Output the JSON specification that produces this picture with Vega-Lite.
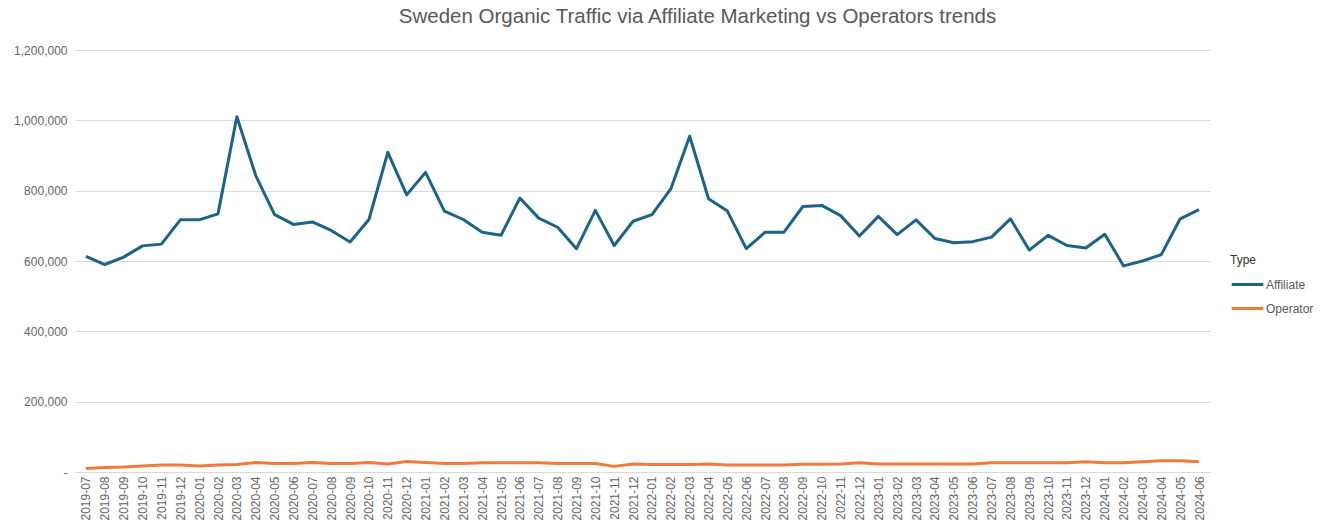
{
  "$schema": "https://vega.github.io/schema/vega-lite/v6.json",
  "autosize": {"type": "none"},
  "width": 1135,
  "height": 422,
  "padding": {"left": 75, "top": 50, "right": 121, "bottom": 55},
  "background": "white",
  "config": {
    "font": "Liberation Sans",
    "view": {"stroke": null}
  },
  "title": {
    "text": "Sweden Organic Traffic via Affiliate Marketing vs Operators trends",
    "fontSize": 20.5,
    "fontWeight": "normal",
    "color": "#595959",
    "anchor": "middle",
    "dx": 55,
    "offset": 17
  },
  "data": {
    "values": [
      {"month": "2019-07", "type": "Affiliate", "value": 613000},
      {"month": "2019-08", "type": "Affiliate", "value": 590000},
      {"month": "2019-09", "type": "Affiliate", "value": 611000},
      {"month": "2019-10", "type": "Affiliate", "value": 643000},
      {"month": "2019-11", "type": "Affiliate", "value": 648000},
      {"month": "2019-12", "type": "Affiliate", "value": 717000},
      {"month": "2020-01", "type": "Affiliate", "value": 717000},
      {"month": "2020-02", "type": "Affiliate", "value": 734000},
      {"month": "2020-03", "type": "Affiliate", "value": 1010000},
      {"month": "2020-04", "type": "Affiliate", "value": 843000},
      {"month": "2020-05", "type": "Affiliate", "value": 732000},
      {"month": "2020-06", "type": "Affiliate", "value": 704000},
      {"month": "2020-07", "type": "Affiliate", "value": 711000},
      {"month": "2020-08", "type": "Affiliate", "value": 687000},
      {"month": "2020-09", "type": "Affiliate", "value": 654000},
      {"month": "2020-10", "type": "Affiliate", "value": 718000},
      {"month": "2020-11", "type": "Affiliate", "value": 909000},
      {"month": "2020-12", "type": "Affiliate", "value": 788000},
      {"month": "2021-01", "type": "Affiliate", "value": 852000},
      {"month": "2021-02", "type": "Affiliate", "value": 742000},
      {"month": "2021-03", "type": "Affiliate", "value": 718000},
      {"month": "2021-04", "type": "Affiliate", "value": 682000},
      {"month": "2021-05", "type": "Affiliate", "value": 673000},
      {"month": "2021-06", "type": "Affiliate", "value": 779000},
      {"month": "2021-07", "type": "Affiliate", "value": 722000},
      {"month": "2021-08", "type": "Affiliate", "value": 696000},
      {"month": "2021-09", "type": "Affiliate", "value": 635000},
      {"month": "2021-10", "type": "Affiliate", "value": 744000},
      {"month": "2021-11", "type": "Affiliate", "value": 644000},
      {"month": "2021-12", "type": "Affiliate", "value": 713000},
      {"month": "2022-01", "type": "Affiliate", "value": 732000},
      {"month": "2022-02", "type": "Affiliate", "value": 805000},
      {"month": "2022-03", "type": "Affiliate", "value": 955000},
      {"month": "2022-04", "type": "Affiliate", "value": 777000},
      {"month": "2022-05", "type": "Affiliate", "value": 742000},
      {"month": "2022-06", "type": "Affiliate", "value": 635000},
      {"month": "2022-07", "type": "Affiliate", "value": 682000},
      {"month": "2022-08", "type": "Affiliate", "value": 682000},
      {"month": "2022-09", "type": "Affiliate", "value": 755000},
      {"month": "2022-10", "type": "Affiliate", "value": 758000},
      {"month": "2022-11", "type": "Affiliate", "value": 729000},
      {"month": "2022-12", "type": "Affiliate", "value": 671000},
      {"month": "2023-01", "type": "Affiliate", "value": 727000},
      {"month": "2023-02", "type": "Affiliate", "value": 675000},
      {"month": "2023-03", "type": "Affiliate", "value": 717000},
      {"month": "2023-04", "type": "Affiliate", "value": 664000},
      {"month": "2023-05", "type": "Affiliate", "value": 652000},
      {"month": "2023-06", "type": "Affiliate", "value": 655000},
      {"month": "2023-07", "type": "Affiliate", "value": 668000},
      {"month": "2023-08", "type": "Affiliate", "value": 720000},
      {"month": "2023-09", "type": "Affiliate", "value": 631000},
      {"month": "2023-10", "type": "Affiliate", "value": 673000},
      {"month": "2023-11", "type": "Affiliate", "value": 644000},
      {"month": "2023-12", "type": "Affiliate", "value": 637000},
      {"month": "2024-01", "type": "Affiliate", "value": 676000},
      {"month": "2024-02", "type": "Affiliate", "value": 586000},
      {"month": "2024-03", "type": "Affiliate", "value": 600000},
      {"month": "2024-04", "type": "Affiliate", "value": 618000},
      {"month": "2024-05", "type": "Affiliate", "value": 720000},
      {"month": "2024-06", "type": "Affiliate", "value": 746000},
      {"month": "2019-07", "type": "Operator", "value": 10000},
      {"month": "2019-08", "type": "Operator", "value": 13000},
      {"month": "2019-09", "type": "Operator", "value": 14000},
      {"month": "2019-10", "type": "Operator", "value": 17000},
      {"month": "2019-11", "type": "Operator", "value": 20000},
      {"month": "2019-12", "type": "Operator", "value": 20000},
      {"month": "2020-01", "type": "Operator", "value": 17000},
      {"month": "2020-02", "type": "Operator", "value": 20000},
      {"month": "2020-03", "type": "Operator", "value": 21000},
      {"month": "2020-04", "type": "Operator", "value": 27000},
      {"month": "2020-05", "type": "Operator", "value": 24000},
      {"month": "2020-06", "type": "Operator", "value": 24000},
      {"month": "2020-07", "type": "Operator", "value": 27000},
      {"month": "2020-08", "type": "Operator", "value": 24000},
      {"month": "2020-09", "type": "Operator", "value": 24000},
      {"month": "2020-10", "type": "Operator", "value": 27000},
      {"month": "2020-11", "type": "Operator", "value": 23000},
      {"month": "2020-12", "type": "Operator", "value": 30000},
      {"month": "2021-01", "type": "Operator", "value": 27000},
      {"month": "2021-02", "type": "Operator", "value": 24000},
      {"month": "2021-03", "type": "Operator", "value": 24000},
      {"month": "2021-04", "type": "Operator", "value": 26000},
      {"month": "2021-05", "type": "Operator", "value": 26000},
      {"month": "2021-06", "type": "Operator", "value": 26000},
      {"month": "2021-07", "type": "Operator", "value": 26000},
      {"month": "2021-08", "type": "Operator", "value": 24000},
      {"month": "2021-09", "type": "Operator", "value": 24000},
      {"month": "2021-10", "type": "Operator", "value": 24000},
      {"month": "2021-11", "type": "Operator", "value": 16000},
      {"month": "2021-12", "type": "Operator", "value": 23000},
      {"month": "2022-01", "type": "Operator", "value": 21000},
      {"month": "2022-02", "type": "Operator", "value": 21000},
      {"month": "2022-03", "type": "Operator", "value": 21000},
      {"month": "2022-04", "type": "Operator", "value": 23000},
      {"month": "2022-05", "type": "Operator", "value": 20000},
      {"month": "2022-06", "type": "Operator", "value": 20000},
      {"month": "2022-07", "type": "Operator", "value": 20000},
      {"month": "2022-08", "type": "Operator", "value": 20000},
      {"month": "2022-09", "type": "Operator", "value": 22000},
      {"month": "2022-10", "type": "Operator", "value": 22000},
      {"month": "2022-11", "type": "Operator", "value": 23000},
      {"month": "2022-12", "type": "Operator", "value": 26000},
      {"month": "2023-01", "type": "Operator", "value": 23000},
      {"month": "2023-02", "type": "Operator", "value": 23000},
      {"month": "2023-03", "type": "Operator", "value": 23000},
      {"month": "2023-04", "type": "Operator", "value": 23000},
      {"month": "2023-05", "type": "Operator", "value": 23000},
      {"month": "2023-06", "type": "Operator", "value": 23000},
      {"month": "2023-07", "type": "Operator", "value": 26000},
      {"month": "2023-08", "type": "Operator", "value": 26000},
      {"month": "2023-09", "type": "Operator", "value": 26000},
      {"month": "2023-10", "type": "Operator", "value": 26000},
      {"month": "2023-11", "type": "Operator", "value": 26000},
      {"month": "2023-12", "type": "Operator", "value": 29000},
      {"month": "2024-01", "type": "Operator", "value": 26000},
      {"month": "2024-02", "type": "Operator", "value": 26000},
      {"month": "2024-03", "type": "Operator", "value": 29000},
      {"month": "2024-04", "type": "Operator", "value": 32000},
      {"month": "2024-05", "type": "Operator", "value": 32000},
      {"month": "2024-06", "type": "Operator", "value": 29000}
    ]
  },
  "mark": {"type": "line", "strokeWidth": 3, "strokeJoin": "round"},
  "encoding": {
    "x": {
      "field": "month",
      "type": "ordinal",
      "scale": {"type": "point", "padding": 0.58},
      "axis": {
        "title": null,
        "labelAngle": -90,
        "labelFontSize": 12,
        "labelColor": "#666666",
        "labelPadding": 4,
        "ticks": false,
        "domain": true,
        "domainColor": "#d9d9d9",
        "grid": false,
        "labelOverlap": false
      }
    },
    "y": {
      "field": "value",
      "type": "quantitative",
      "scale": {"domain": [0, 1200000], "nice": false},
      "axis": {
        "title": null,
        "values": [0, 200000, 400000, 600000, 800000, 1000000, 1200000],
        "labelExpr": "datum.value == 0 ? '-' : format(datum.value, ',')",
        "labelFontSize": 12,
        "labelColor": "#666666",
        "labelPadding": 8,
        "ticks": false,
        "domain": false,
        "grid": true,
        "gridColor": "#d9d9d9",
        "gridWidth": 1
      }
    },
    "color": {
      "field": "type",
      "type": "nominal",
      "scale": {"domain": ["Affiliate", "Operator"], "range": ["#1c6388", "#f07a3c"]},
      "legend": {
        "title": "Type",
        "titleFontSize": 12,
        "titleFontWeight": "normal",
        "titleColor": "#333333",
        "titlePadding": 0,
        "labelFontSize": 12,
        "labelColor": "#595959",
        "symbolType": "stroke",
        "symbolSize": 1000,
        "symbolStrokeWidth": 3,
        "labelOffset": 1,
        "rowPadding": -8,
        "orient": "none",
        "legendX": 1155,
        "legendY": 205
      }
    }
  }
}
